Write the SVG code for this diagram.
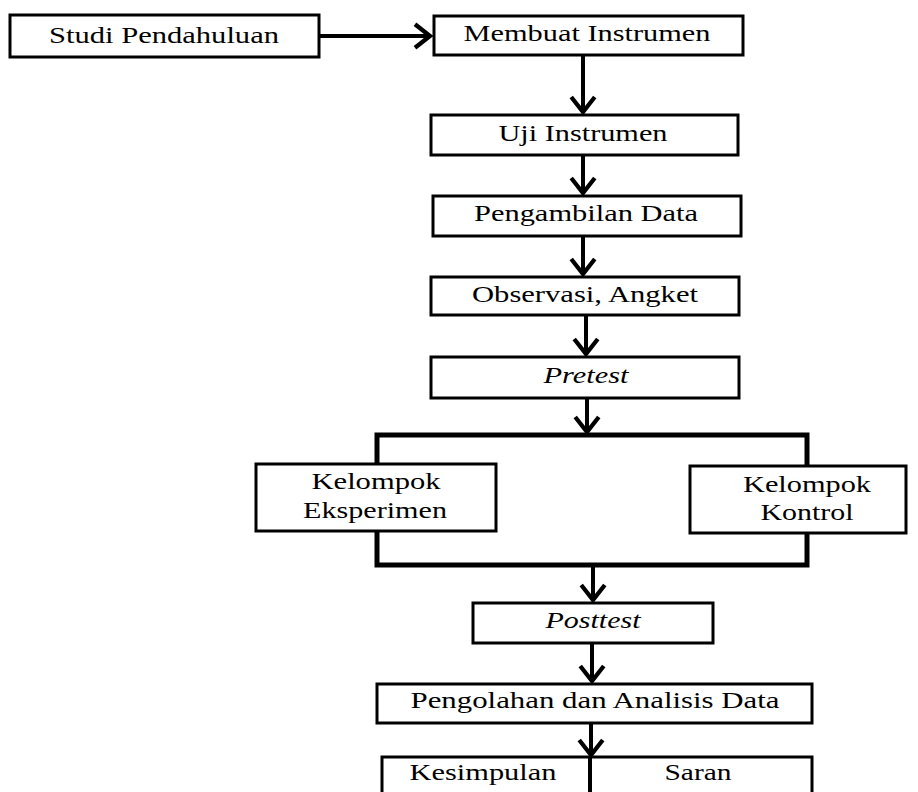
<svg xmlns="http://www.w3.org/2000/svg" width="918" height="792" viewBox="0 0 918 792">
<style>
.box{fill:#fff;stroke:#000;stroke-width:3}
.t{font-family:"Liberation Serif","Times New Roman",serif;font-size:23px;fill:#000;text-anchor:middle}
.i{font-style:italic}
.c{fill:none;stroke:#000;stroke-width:4}
.br{fill:none;stroke:#000;stroke-width:5}
</style>
<defs>
<marker id="ah" markerUnits="userSpaceOnUse" markerWidth="30" markerHeight="30" viewBox="-18 -14 22 28" refX="0" refY="0" orient="auto">
<path d="M-14,-11 L0,0 L-14,11" fill="none" stroke="#000" stroke-width="4" stroke-linejoin="miter"/>
</marker>
</defs>
<g id="connectors">
<line class="c" x1="319" y1="36" x2="430" y2="36" marker-end="url(#ah)"/>
<line class="c" x1="583" y1="55" x2="583" y2="112" marker-end="url(#ah)"/>
<line class="c" x1="583" y1="155" x2="583" y2="193" marker-end="url(#ah)"/>
<line class="c" x1="583" y1="236" x2="583" y2="274" marker-end="url(#ah)"/>
<line class="c" x1="586" y1="315" x2="586" y2="354" marker-end="url(#ah)"/>
<line class="c" x1="587" y1="398" x2="587" y2="432" marker-end="url(#ah)"/>
<rect class="br" x="377" y="435" width="430" height="130"/>
<line class="c" x1="593" y1="565" x2="593" y2="600" marker-end="url(#ah)"/>
<line class="c" x1="592" y1="643" x2="592" y2="681" marker-end="url(#ah)"/>
<line class="c" x1="591" y1="723" x2="591" y2="755" marker-end="url(#ah)"/>
</g>
<g id="n1"><rect class="box" x="10" y="15" width="309" height="42"/><text class="t" x="164" y="43" textLength="230" lengthAdjust="spacingAndGlyphs">Studi Pendahuluan</text></g>
<g id="n2"><rect class="box" x="434" y="16" width="309" height="39"/><text class="t" x="587" y="41" textLength="247" lengthAdjust="spacingAndGlyphs">Membuat Instrumen</text></g>
<g id="n3"><rect class="box" x="431" y="115" width="307" height="40"/><text class="t" x="583" y="141" textLength="169" lengthAdjust="spacingAndGlyphs">Uji Instrumen</text></g>
<g id="n4"><rect class="box" x="433" y="196" width="308" height="40"/><text class="t" x="586" y="221" textLength="224" lengthAdjust="spacingAndGlyphs">Pengambilan Data</text></g>
<g id="n5"><rect class="box" x="431" y="277" width="308" height="38"/><text class="t" x="585" y="302" textLength="226" lengthAdjust="spacingAndGlyphs">Observasi, Angket</text></g>
<g id="n6"><rect class="box" x="431" y="357" width="308" height="41"/><text class="t i" x="586" y="383" textLength="85" lengthAdjust="spacingAndGlyphs">Pretest</text></g>
<g id="n7"><rect class="box" x="256" y="464" width="240" height="67"/><text class="t" x="376" y="489" textLength="129" lengthAdjust="spacingAndGlyphs">Kelompok</text><text class="t" x="375" y="518" textLength="144" lengthAdjust="spacingAndGlyphs">Eksperimen</text></g>
<g id="n8"><rect class="box" x="690" y="466" width="216" height="67"/><text class="t" x="807" y="492" textLength="128" lengthAdjust="spacingAndGlyphs">Kelompok</text><text class="t" x="807" y="520" textLength="93" lengthAdjust="spacingAndGlyphs">Kontrol</text></g>
<g id="n9"><rect class="box" x="473" y="603" width="240" height="40"/><text class="t i" x="593" y="628" textLength="95" lengthAdjust="spacingAndGlyphs">Posttest</text></g>
<g id="n10"><rect class="box" x="377" y="684" width="435" height="39"/><text class="t" x="595" y="708" textLength="369" lengthAdjust="spacingAndGlyphs">Pengolahan dan Analisis Data</text></g>
<g id="n11"><rect class="box" x="382" y="757" width="430" height="50"/><line x1="590" y1="757" x2="590" y2="792" stroke="#000" stroke-width="4"/><text class="t" x="483" y="780" textLength="147" lengthAdjust="spacingAndGlyphs">Kesimpulan</text><text class="t" x="698" y="780" textLength="67" lengthAdjust="spacingAndGlyphs">Saran</text></g>
</svg>
